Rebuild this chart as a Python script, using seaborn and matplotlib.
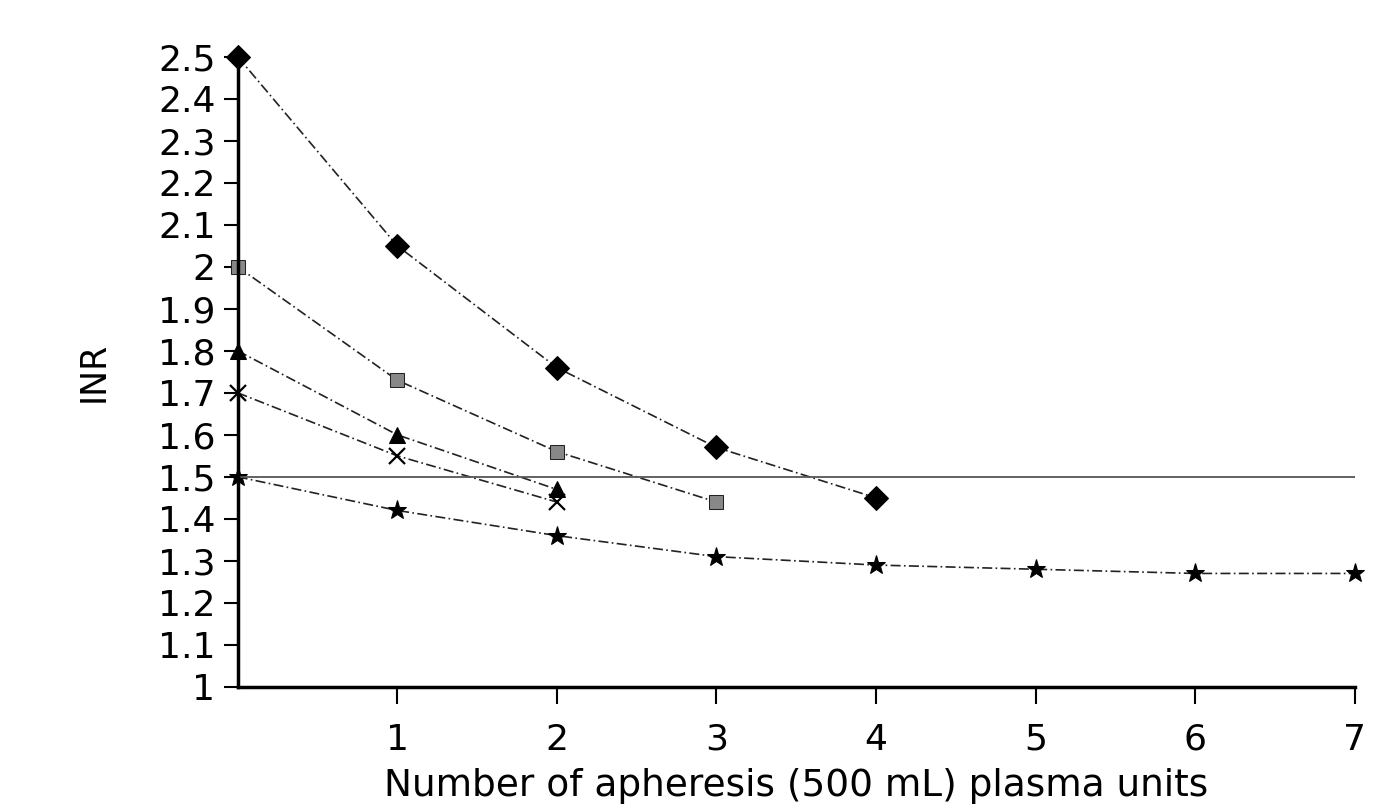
import numpy as np
import pandas as pd
import matplotlib
matplotlib.use("Agg")
import matplotlib.pyplot as plt
import seaborn as sns

# values
units = [0, 1, 2, 3, 4, 5, 6, 7]
inr_diamond = [2.50, 2.05, 1.76, 1.57, 1.45]
inr_square = [2.00, 1.73, 1.56, 1.44]
inr_triangle = [1.80, 1.60, 1.47]
inr_cross = [1.70, 1.55, 1.44]
inr_star = [1.50, 1.42, 1.36, 1.31, 1.29, 1.28, 1.27, 1.27]
threshold = 1.5
y_ticks = [1.0, 1.1, 1.2, 1.3, 1.4, 1.5, 1.6, 1.7, 1.8, 1.9, 2.0, 2.1, 2.2, 2.3, 2.4, 2.5]
y_tick_labels = ["1", "1.1", "1.2", "1.3", "1.4", "1.5", "1.6", "1.7", "1.8",
                 "1.9", "2", "2.1", "2.2", "2.3", "2.4", "2.5"]
x_ticks = [1, 2, 3, 4, 5, 6, 7]

sns.set_style("ticks")
plt.rcParams['font.family'] = ['DejaVu Sans']
plt.rcParams['text.color'] = 'black'
plt.rcParams['axes.labelcolor'] = 'black'
plt.rcParams['xtick.color'] = 'black'
plt.rcParams['ytick.color'] = 'black'

fig = plt.figure(figsize=(13.98, 8.10), dpi=100)
ax = fig.add_axes([0.170, 0.152, 0.799, 0.778])

series = [
    (inr_diamond, dict(marker="D", markersize=12, markerfacecolor="black", markeredgecolor="black")),
    (inr_square, dict(marker="s", markersize=10, markerfacecolor="#888888", markeredgecolor="#222222")),
    (inr_triangle, dict(marker="^", markersize=12, markerfacecolor="black", markeredgecolor="black")),
    (inr_cross, dict(marker="x", markersize=11, markeredgewidth=1.6, markeredgecolor="black")),
    (inr_star, dict(marker="*", markersize=14, markerfacecolor="black", markeredgecolor="black")),
]
for vals, style in series:
    df = pd.DataFrame({"units": units[:len(vals)], "inr": vals})
    sns.lineplot(data=df, x="units", y="inr", ax=ax, color="#222222",
                 linewidth=1.2, linestyle=(0, (6, 2, 1, 2)), clip_on=False, **style)

ax.plot([0, 7], [threshold, threshold], color="#555555", linewidth=1.3)

ax.set_xlim(0, 7)
ax.set_ylim(1.0, 2.5)
ax.set_xticks(x_ticks)
ax.set_xticklabels([str(t) for t in x_ticks], fontsize=26)
ax.set_yticks(y_ticks)
ax.set_yticklabels(y_tick_labels, fontsize=26)
ax.tick_params(axis="y", length=10, width=1.5, pad=6)
ax.tick_params(axis="x", length=12, width=1.5, pad=14)
ax.set_xlabel("Number of apheresis (500 mL) plasma units", fontsize=27, labelpad=8)
ax.set_ylabel("INR", fontsize=25, labelpad=34)

sns.despine(ax=ax)
for side in ["left", "bottom"]:
    ax.spines[side].set_linewidth(2.5)
    ax.spines[side].set_color("black")

fig.savefig("out.png", dpi=100)
